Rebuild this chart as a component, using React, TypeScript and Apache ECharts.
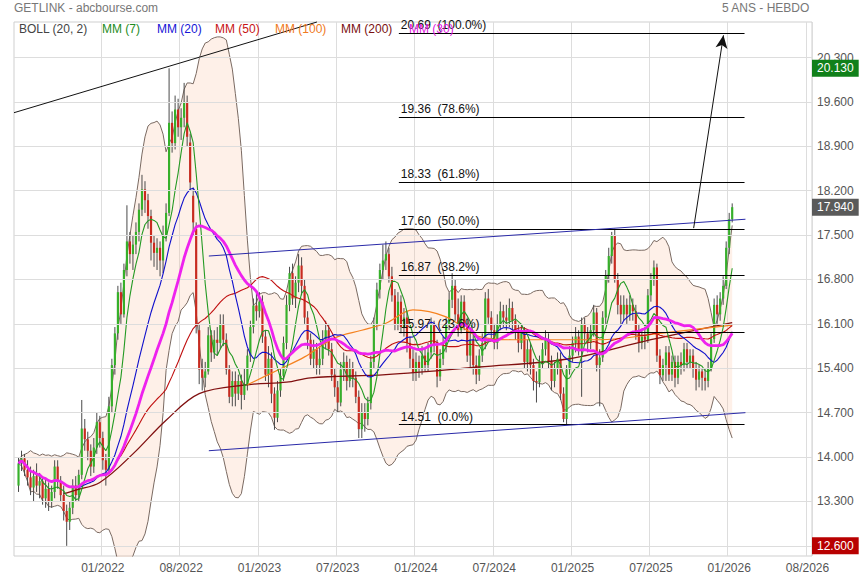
import React, { useEffect, useRef } from "react";
import * as echarts from "echarts";

// Weekly candles [open, close, low, high]
const ohlcPart1: number[][] = [
  [13.55, 13.9, 13.45, 14.0], [13.9, 13.98, 13.78, 14.1], [13.98, 13.8, 13.7, 14.05], [13.8, 13.68, 13.55, 13.95],
  [13.68, 13.52, 13.4, 13.85], [13.52, 13.7, 13.3, 13.8], [13.7, 13.55, 13.45, 13.9], [13.55, 13.62, 13.35, 13.75],
  [13.62, 13.35, 13.25, 13.7], [13.35, 13.5, 13.2, 13.65], [13.5, 13.3, 13.15, 13.6], [13.3, 13.45, 13.2, 13.55],
  [13.45, 13.85, 13.35, 13.95], [13.85, 13.62, 13.5, 13.95], [13.62, 13.4, 13.3, 13.7], [13.4, 13.15, 13.0, 13.55],
  [13.15, 12.98, 12.6, 13.25], [12.98, 13.2, 12.85, 13.3], [13.2, 13.55, 13.1, 13.65], [13.55, 13.4, 13.3, 13.7],
  [13.4, 13.72, 13.3, 13.8], [13.72, 14.45, 13.65, 14.9], [14.45, 14.28, 14.1, 14.6], [14.28, 14.1, 13.95, 14.4],
  [14.1, 13.85, 13.7, 14.2], [13.85, 14.15, 13.75, 14.3], [14.15, 14.55, 14.05, 14.7], [14.55, 14.3, 14.15, 14.65],
  [14.3, 13.95, 13.8, 14.4], [13.95, 13.8, 13.55, 14.05], [13.8, 14.8, 13.75, 14.95],
];
const ohlcPart2: number[][] = [
  [14.8, 15.45, 14.7, 15.55], [15.45, 15.95, 15.3, 16.05], [15.95, 16.6, 15.85, 16.7], [16.6, 16.25, 16.1, 16.75],
  [16.25, 16.95, 16.2, 17.05], [16.95, 17.4, 16.85, 17.97], [17.4, 17.2, 17.05, 17.55], [17.2, 17.35, 16.95, 17.5],
  [17.35, 17.55, 17.2, 17.7], [17.55, 17.9, 17.4, 18.0], [17.9, 18.22, 17.8, 18.45], [18.22, 18.05, 17.85, 18.35],
  [18.05, 17.8, 17.6, 18.15], [17.8, 17.38, 17.1, 17.9], [17.38, 17.22, 17.0, 17.5], [17.22, 17.3, 16.95, 17.45],
  [17.3, 17.1, 16.85, 17.4], [17.1, 17.5, 16.9, 17.65], [17.5, 17.85, 17.4, 18.0], [17.85, 19.27, 17.8, 20.13],
  [19.27, 18.95, 18.8, 19.45], [18.95, 19.48, 18.85, 19.7], [19.48, 19.2, 19.05, 19.65], [19.2, 19.35, 19.0, 19.5],
  [19.35, 19.6, 19.2, 19.9], [19.6, 19.05, 18.9, 19.7], [18.96, 18.33, 18.2, 19.1], [18.12, 17.7, 17.5, 18.25],
  [17.6, 16.07, 15.95, 17.7], [16.0, 15.38, 15.15, 16.1],
];
const ohlcPart3: number[][] = [
  [15.38, 15.25, 15.05, 15.55], [15.25, 15.35, 15.1, 15.5], [15.35, 15.92, 15.3, 16.05], [15.92, 15.65, 15.5, 16.0],
  [15.65, 15.85, 15.55, 16.0], [15.85, 15.8, 15.6, 16.05], [15.8, 16.1, 15.7, 16.25], [16.1, 15.85, 15.75, 16.25],
  [15.85, 15.38, 15.3, 15.95], [15.38, 14.95, 14.85, 15.45], [14.95, 15.2, 14.8, 15.35], [15.2, 15.0, 14.8, 15.35],
  [15.0, 15.2, 14.9, 15.3], [15.2, 14.98, 14.75, 15.3], [14.98, 15.15, 14.9, 15.4], [15.15, 15.6, 15.05, 15.7],
  [15.6, 16.05, 15.5, 16.15], [16.05, 16.39, 15.95, 16.5], [16.39, 16.3, 16.15, 16.6], [16.3, 16.45, 16.2, 16.6],
  [16.45, 15.9, 15.8, 16.55], [15.9, 15.3, 15.2, 16.0], [15.3, 15.55, 15.1, 15.75], [15.55, 15.0, 14.85, 15.65],
  [15.0, 14.62, 14.43, 15.1], [14.62, 15.05, 14.55, 15.2], [15.05, 15.28, 14.95, 15.4], [15.28, 15.8, 15.2, 15.9],
  [15.8, 16.4, 15.7, 16.55], [16.4, 16.9, 16.3, 17.0], [16.9, 16.5, 16.4, 17.05], [16.5, 16.75, 16.35, 16.85],
  [16.75, 17.02, 16.6, 17.2], [17.02, 16.7, 16.55, 17.15], [16.7, 16.2, 16.1, 16.8], [16.2, 15.85, 15.7, 16.3],
  [15.85, 15.55, 15.45, 15.95], [15.55, 15.7, 15.4, 15.85], [15.7, 15.45, 15.3, 15.8], [15.45, 15.55, 15.3, 15.75],
  [15.55, 15.85, 15.45, 16.0], [15.85, 16.0, 15.7, 16.15], [16.0, 15.7, 15.6, 16.1], [15.7, 15.3, 15.2, 15.8],
  [15.3, 15.1, 14.95, 15.4], [15.1, 14.86, 14.7, 15.2], [14.86, 15.38, 14.8, 15.5], [15.38, 15.5, 15.2, 15.65],
  [15.5, 15.2, 15.05, 15.6], [15.2, 15.4, 15.1, 15.55], [15.4, 15.25, 15.1, 15.5], [15.25, 14.95, 14.85, 15.35],
  [14.95, 14.44, 14.3, 15.05], [14.44, 14.7, 14.3, 14.85], [14.7, 14.6, 14.4, 14.85], [14.6, 14.85, 14.5, 14.95],
  [14.85, 15.5, 14.75, 15.6], [15.5, 16.1, 15.4, 16.2], [16.1, 16.64, 16.0, 16.75], [16.64, 16.95, 16.5, 17.05],
  [16.95, 17.1, 16.8, 17.35],
];
const ohlcPart4: number[][] = [
  [17.1, 17.2, 16.95, 17.4], [17.2, 16.85, 16.75, 17.3], [16.85, 16.55, 16.45, 17.0], [16.55, 16.1, 16.0, 16.65],
  [16.1, 16.45, 16.0, 16.6], [16.45, 16.05, 15.95, 16.55], [16.05, 16.2, 15.9, 16.35], [16.2, 15.8, 15.65, 16.3],
  [15.8, 15.55, 15.4, 15.9], [15.55, 15.33, 15.2, 15.7], [15.33, 15.5, 15.2, 15.65], [15.5, 15.4, 15.25, 15.6],
  [15.4, 15.6, 15.3, 15.75], [15.6, 15.45, 15.35, 15.7], [15.45, 15.65, 15.35, 15.8], [15.65, 16.08, 15.55, 16.2],
  [16.08, 15.76, 15.65, 16.15], [15.76, 15.27, 15.1, 15.85], [15.27, 15.55, 15.2, 15.7], [15.55, 15.75, 15.45, 15.9],
  [15.75, 16.1, 15.65, 16.2], [16.1, 16.48, 16.0, 16.6], [16.48, 16.7, 16.35, 16.9], [16.7, 16.25, 16.15, 16.8],
  [16.25, 16.0, 15.9, 16.5], [16.0, 16.45, 15.95, 16.55], [16.45, 16.1, 16.0, 16.55], [16.1, 15.6, 15.5, 16.2],
  [15.6, 15.85, 15.4, 16.0], [15.85, 15.45, 15.3, 15.95], [15.45, 15.3, 15.15, 15.6], [15.3, 15.6, 15.2, 15.7],
  [15.6, 15.8, 15.5, 15.95], [15.8, 16.5, 15.7, 16.6], [16.5, 16.2, 16.1, 16.65], [16.2, 16.0, 15.85, 16.3],
  [16.0, 15.8, 15.7, 16.1], [15.8, 16.1, 15.7, 16.25], [16.1, 16.3, 16.0, 16.45], [16.3, 16.2, 16.05, 16.4],
  [16.2, 16.15, 16.0, 16.4], [16.15, 16.35, 16.05, 16.5], [16.35, 16.15, 16.0, 16.45], [16.15, 16.0, 15.85, 16.25],
  [16.0, 15.8, 15.65, 16.1], [15.8, 16.0, 15.7, 16.1], [16.0, 15.5, 15.4, 16.05], [15.5, 15.7, 15.35, 15.85],
  [15.7, 15.45, 15.3, 15.8], [15.45, 15.2, 15.05, 15.55], [15.2, 15.18, 14.86, 15.35], [15.18, 15.5, 15.1, 15.6],
  [15.5, 15.7, 15.4, 15.8], [15.7, 15.86, 15.6, 16.0], [15.86, 15.5, 15.4, 15.95], [15.5, 15.2, 15.05, 15.6],
  [15.2, 15.4, 15.1, 15.5], [15.4, 15.55, 15.3, 15.65], [15.55, 15.0, 14.9, 15.65], [15.0, 14.6, 14.55, 15.1],
  [14.6, 15.38, 14.51, 15.45],
];
const ohlcPart5: number[][] = [
  [15.38, 15.6, 15.3, 15.75], [15.6, 15.8, 15.5, 15.9], [15.8, 15.9, 15.65, 16.05], [15.9, 15.7, 15.6, 16.0],
  [15.7, 16.1, 14.95, 16.2], [16.1, 15.95, 15.8, 16.2], [15.95, 15.8, 15.65, 16.05], [15.8, 16.0, 15.7, 16.1],
  [16.0, 16.28, 15.9, 16.4], [16.28, 15.45, 15.35, 16.35], [15.45, 15.57, 14.8, 15.7], [15.57, 16.2, 15.5, 16.3],
  [16.2, 16.86, 16.1, 16.95], [16.86, 17.17, 16.75, 17.3], [17.17, 17.49, 17.05, 17.55], [17.49, 16.8, 16.75, 17.6],
  [16.8, 16.4, 16.25, 16.9], [16.4, 16.25, 16.1, 16.55], [16.25, 16.4, 16.15, 16.55], [16.4, 16.25, 16.1, 16.5],
  [16.25, 16.4, 16.15, 16.55], [16.4, 16.3, 16.15, 16.5], [16.3, 15.96, 15.85, 16.4], [15.96, 15.8, 15.65, 16.1],
  [15.8, 15.9, 15.7, 16.0], [15.9, 15.85, 15.7, 16.05], [15.85, 16.55, 15.8, 16.65], [16.55, 16.8, 16.45, 16.9],
  [16.8, 16.99, 16.7, 17.1], [16.99, 15.6, 15.5, 17.05], [15.6, 15.29, 15.15, 15.7], [15.29, 15.45, 15.2, 15.55],
  [15.45, 15.65, 15.2, 15.75], [15.65, 15.3, 15.2, 15.75], [15.3, 15.5, 15.2, 15.6], [15.5, 15.25, 15.1, 15.6],
  [15.25, 15.5, 15.15, 15.6], [15.5, 15.45, 15.3, 15.65], [15.45, 15.7, 15.35, 15.8], [15.7, 15.5, 15.4, 15.8],
  [15.5, 15.6, 15.4, 15.7], [15.6, 15.4, 15.25, 15.7], [15.4, 15.22, 15.05, 15.5], [15.22, 15.35, 15.1, 15.45],
  [15.35, 15.25, 15.05, 15.4], [15.25, 15.2, 15.05, 15.4], [15.2, 15.4, 15.1, 15.5], [15.4, 15.86, 15.35, 15.95],
  [15.86, 16.4, 15.8, 16.5], [16.4, 16.25, 16.1, 16.55], [16.25, 16.5, 16.15, 16.6], [16.5, 16.7, 16.4, 16.85],
  [16.7, 17.3, 16.65, 17.4], [17.3, 17.75, 17.2, 17.85], [17.75, 17.94, 17.7, 18.0],
];

// Long moving averages: [week index, value]
const mm200Read: number[][] = [
  [15, 13.42], [19, 13.48], [27, 13.6], [38, 14.05], [49, 14.58], [60, 15.0], [76, 15.14], [89, 15.18],
  [97, 15.25], [122, 15.3], [153, 15.42], [183, 15.55], [210, 15.85], [237, 16.12],
];
const mm100Read: number[][] = [
  [76, 15.14], [86, 15.37], [95, 15.58], [105, 15.88], [114, 16.0], [122, 16.11], [131, 16.32], [142, 16.21],
  [153, 15.9], [164, 15.85], [180, 15.85], [193, 15.85], [213, 15.95], [237, 16.08],
];

const xTickCats = [29, 55, 81, 107, 133, 159, 185, 211, 237, 263];
const xTickLabels = ["01/2022", "08/2022", "01/2023", "07/2023", "01/2024", "07/2024", "01/2025", "07/2025", "01/2026", "08/2026"];
const yTicks = [12.6, 13.3, 14.0, 14.7, 15.4, 16.1, 16.8, 17.5, 18.2, 18.9, 19.6, 20.3];

const fibLevels = [20.69, 19.36, 18.33, 17.6, 16.87, 15.97, 14.51];
const fibPercents = ["100.0", "78.6", "61.8", "50.0", "38.2", "23.6", "0.0"];
const fibSpan = [127.8, 242.6];
const channelUpper = [[64.7, 17.17], [242.9, 17.75]];
const channelLower = [[64.7, 14.1], [242.9, 14.7]];
const trendLine = [[0, 19.43], [100.6, 20.86]];
const arrowLine = [[225.7, 17.61], [235.6, 20.65]];
const priceTags = [
  { value: 20.13, text: "20.130", color: "#11801a" },
  { value: 17.94, text: "17.940", color: "#5a5a5a" },
  { value: 12.6, text: "12.600", color: "#b80000" },
];

const Y_MIN = 12.44;
const Y_MAX = 20.86;
const N_CAT = 265;
const LEAD = 1;

const FONT = '"Liberation Sans", Arial, sans-serif';

export default function App() {
  const ref = useRef<HTMLDivElement>(null);
  useEffect(() => {
    if (!ref.current) return;
    const chart = echarts.init(ref.current, null, { renderer: "svg" });
    const ohlc = [...ohlcPart1, ...ohlcPart2, ...ohlcPart3, ...ohlcPart4, ...ohlcPart5];
    const closes = ohlc.map((r) => r[1]);
    const n = closes.length;
    const start = new Date(Date.UTC(2026, 1, 9) - (n - 1) * 7 * 86400000);
    const categories: string[] = [];
    for (let c = 0; c < N_CAT; c++) {
      const d = new Date(start.getTime() + (c - LEAD) * 7 * 86400000);
      categories.push(d.toISOString().slice(0, 10));
    }
    const pad = (arr: (number | null)[]) => {
      const out: (number | null)[] = [];
      for (let c = 0; c < N_CAT; c++) {
        const i = c - LEAD;
        out.push(i >= 0 && i < arr.length ? arr[i] : null);
      }
      return out;
    };
    const sma = (p: number, from: number) =>
      closes.map((_, i) => {
        if (i < from) return null;
        const s = Math.max(0, i - p + 1);
        let sum = 0;
        for (let k = s; k <= i; k++) sum += closes[k];
        return sum / (i - s + 1);
      });
    const mid = sma(20, 0) as number[];
    const upper: number[] = [];
    const lower: number[] = [];
    closes.forEach((_, i) => {
      const s = Math.max(0, i - 19);
      let v = 0;
      for (let k = s; k <= i; k++) v += (closes[k] - mid[i]) ** 2;
      const sd = Math.sqrt(v / (i - s + 1));
      upper.push(mid[i] + 2 * sd);
      lower.push(mid[i] - 2 * sd);
    });
    const bandW = upper.map((u, i) => u - lower[i]);

    const candleData = ohlc.map((r, i) => [i + LEAD, r[0], r[1], r[2], r[3]]);

    const maLine = (name: string, data: (number | null)[], color: string, width: number, z = 4) => ({
      name,
      type: "line",
      data: pad(data),
      symbol: "none",
      silent: true,
      z,
      lineStyle: { color, width },
    });
    const readLine = (name: string, pts: number[][], color: string, width: number) => ({
      name,
      type: "line",
      xAxisIndex: 1,
      data: pts.map((p) => [p[0] + LEAD + 0.5, p[1]]),
      symbol: "none",
      smooth: 0.35,
      silent: true,
      z: 4,
      lineStyle: { color, width },
    });

    const gridMarks = yTicks.map((v) => ({
      yAxis: v,
      label: {
        show: v > 12.7, position: "end", distance: 5, formatter: v.toFixed(3), color: "#555",
        fontSize: 12, fontFamily: FONT, padding: [0, 0, 6, 0],
      },
      lineStyle: { color: "#dddddd", width: 1, type: "solid" },
    }));
    const tagMarks = priceTags.map((t) => ({
      yAxis: t.value,
      lineStyle: { color: "rgba(0,0,0,0)", width: 1, type: "solid" },
      label: {
        show: true, position: "end", distance: 0, formatter: t.text, color: "#ffffff",
        backgroundColor: t.color, padding: [4, 5, 1, 5], fontSize: 12, fontFamily: FONT,
      },
    }));
    const fibMarks = fibLevels.map((v, i) => [
      {
        coord: [fibSpan[0], v],
        label: {
          show: true, position: "insideStartTop", distance: 2,
          formatter: v.toFixed(2) + "\u00a0\u00a0(" + fibPercents[i] + "%)",
          color: "#111", fontSize: 12, fontFamily: FONT,
        },
        lineStyle: { color: "#000", width: 1, type: "solid" },
      },
      { coord: [fibSpan[1], v] },
    ]);
    const segMark = (pts: number[][], color: string, arrow = false) => [
      { coord: pts[0], symbol: "none", lineStyle: { color, width: 1, type: "solid" } },
      { coord: pts[1], symbol: arrow ? "arrow" : "none", symbolSize: arrow ? [9, 13] : 0 },
    ];

    const legendItems = [
      { text: "BOLL (20, 2)", x: 19, color: "#444" },
      { text: "MM (7)", x: 102, color: "#1d8c1d" },
      { text: "MM (20)", x: 157, color: "#1515d6" },
      { text: "MM (50)", x: 215, color: "#c81414" },
      { text: "MM (100)", x: 275, color: "#f07a22" },
      { text: "MM (200)", x: 341, color: "#7a1010" },
      { text: "MM (30)", x: 409, color: "#e020e0" },
    ];

    const option: any = {
      animation: false,
      backgroundColor: "#ffffff",
      textStyle: { fontFamily: FONT },
      grid: { left: 14, right: 48, top: 22, bottom: 24, show: true, borderColor: "#cfcfcf", borderWidth: 1, backgroundColor: "transparent" },
      xAxis: [
        {
          type: "category",
          data: categories,
          boundaryGap: true,
          axisLine: { show: false },
          axisTick: { show: false },
          axisLabel: {
            interval: (i: number) => xTickCats.includes(i),
            formatter: (_v: string, i: number) => xTickLabels[xTickCats.indexOf(i)] ?? "",
            color: "#555",
            fontSize: 12,
            fontFamily: FONT,
            margin: 6,
          },
          splitLine: { show: true, interval: (i: number) => xTickCats.includes(i), lineStyle: { color: "#dddddd", width: 1 } },
        },
        { type: "value", min: 0, max: N_CAT, show: false, splitLine: { show: false } },
      ],
      yAxis: [{ type: "value", min: Y_MIN, max: Y_MAX, show: false, splitLine: { show: false } }],
      graphic: [
        { type: "text", left: 14, top: 2, style: { text: "GETLINK - abcbourse.com", fill: "#777", font: "12px " + FONT } },
        { type: "text", right: 50, top: 2, style: { text: "5 ANS - HEBDO", fill: "#777", font: "12px " + FONT } },
        ...legendItems.map((l) => ({
          type: "text", left: l.x, top: 23, z: 50,
          style: { text: l.text, fill: l.color, font: "12px " + FONT },
        })),
      ],
      series: [
        {
          name: "grid", type: "line", xAxisIndex: 1, data: [[0, 13]], symbol: "none", silent: true, z: 0,
          lineStyle: { opacity: 0 },
          markLine: { silent: true, symbol: ["none", "none"], animation: false, data: gridMarks },
        },
        {
          name: "bollBase", type: "line", data: pad(lower), stack: "boll", symbol: "none", silent: true, z: 1,
          lineStyle: { opacity: 0 },
        },
        {
          name: "bollBand", type: "line", data: pad(bandW), stack: "boll", symbol: "none", silent: true, z: 1,
          lineStyle: { opacity: 0 },
          areaStyle: { color: "rgba(249,192,155,0.33)", origin: "auto" },
        },
        maLine("bollUp", upper, "#7a6a62", 1, 2),
        maLine("bollLow", lower, "#7a6a62", 1, 2),
        {
          name: "candles",
          type: "custom",
          z: 3,
          clip: true,
          data: candleData,
          encode: { x: 0, y: [1, 2, 3, 4] },
          renderItem: (_p: any, api: any) => {
            const x = api.value(0);
            const o = api.value(1), c = api.value(2), l = api.value(3), h = api.value(4);
            const pO = api.coord([x, o]);
            const pC = api.coord([x, c]);
            const pL = api.coord([x, l]);
            const pH = api.coord([x, h]);
            const w = api.size([1, 0])[0] * 0.72;
            const top = Math.min(pO[1], pC[1]);
            const hgt = Math.max(Math.abs(pO[1] - pC[1]), 1);
            return {
              type: "group",
              children: [
                { type: "line", shape: { x1: pH[0], y1: pH[1], x2: pL[0], y2: pL[1] }, style: { stroke: "#4a4a4a", lineWidth: 1 } },
                {
                  type: "rect",
                  shape: { x: pO[0] - w / 2, y: top, width: w, height: hgt },
                  style: { fill: c >= o ? "#36b02a" : "#c92a1f" },
                },
              ],
            };
          },
        },
        readLine("MM (200)", mm200Read, "#801010", 1.3),
        readLine("MM (100)", mm100Read, "#f5821f", 1.2),
        maLine("MM (50)", sma(50, 27), "#c01010", 1.1),
        maLine("MM (30)", sma(30, 0), "#ee22ee", 2.8, 5),
        maLine("MM (20)", sma(20, 0), "#1010cc", 1.1),
        maLine("MM (7)", sma(7, 0), "#249a24", 1.1),
        {
          name: "annot", type: "line", xAxisIndex: 1, data: [[0, 13]], symbol: "none", silent: true, z: 10,
          lineStyle: { opacity: 0 },
          markLine: {
            silent: true, symbol: ["none", "none"], animation: false, z: 10,
            label: { show: false },
            data: [
              ...fibMarks,
              segMark(channelUpper, "#2a2aa8"),
              segMark(channelLower, "#2a2aa8"),
              segMark(trendLine, "#111"),
              segMark(arrowLine, "#111", true),
            ],
          },
        },
        {
          name: "tags", type: "line", xAxisIndex: 1, data: [[0, 13]], symbol: "none", silent: true, z: 12,
          lineStyle: { color: "rgba(0,0,0,0)" },
          markLine: {
            silent: true, symbol: ["none", "none"], animation: false, z: 12,
            data: tagMarks,
          },
        },
      ],
    };
    chart.setOption(option);
    return () => chart.dispose();
  }, []);
  return (
    <div
      ref={ref}
      style={{ position: "fixed", left: 0, top: 0, width: 860, height: 580, background: "#fff" }}
    />
  );
}
